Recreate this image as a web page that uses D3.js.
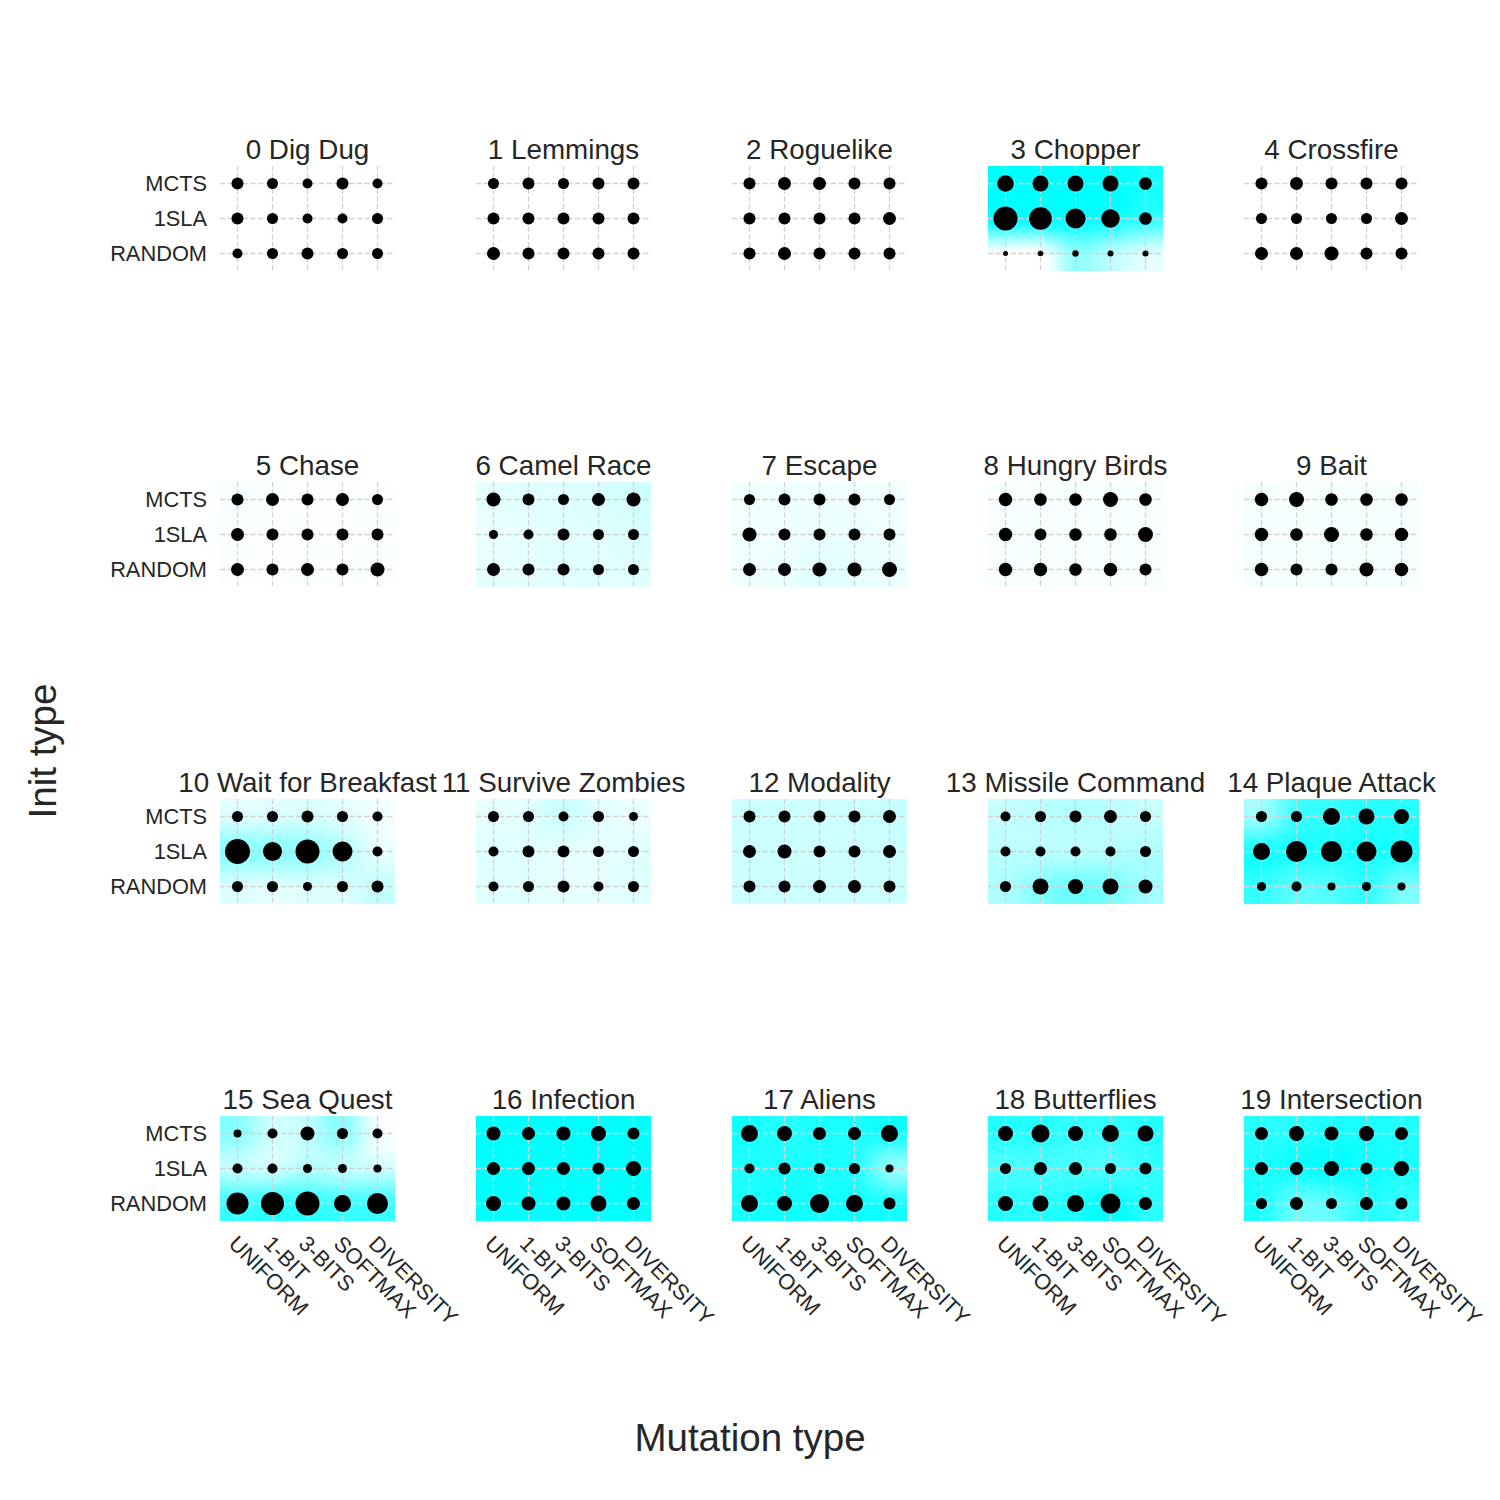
<!DOCTYPE html>
<html><head><meta charset="utf-8">
<script src="https://cdnjs.cloudflare.com/ajax/libs/d3/7.8.5/d3.min.js"></script>
<style>body{margin:0;background:#fff}svg{display:block}</style>
</head><body>
<script>
// ---------- data ----------
const games = ["0 Dig Dug","1 Lemmings","2 Roguelike","3 Chopper","4 Crossfire",
  "5 Chase","6 Camel Race","7 Escape","8 Hungry Birds","9 Bait",
  "10 Wait for Breakfast","11 Survive Zombies","12 Modality","13 Missile Command","14 Plaque Attack",
  "15 Sea Quest","16 Infection","17 Aliens","18 Butterflies","19 Intersection"];
const mutations = ["UNIFORM","1-BIT","3-BITS","SOFTMAX","DIVERSITY"];
const inits = ["MCTS","1SLA","RANDOM"];
const xLabel = "Mutation type";
const yLabel = "Init type";

// background value (win rate, 0..1) per game: rows MCTS, 1SLA, RANDOM
const winRates = [
  [[0,0,0,0,0],[0,0,0,0,0],[0,0,0,0,0]],
  [[0,0,0,0,0],[0,0,0,0,0],[0,0,0,0,0]],
  [[0,0,0,0,0],[0,0,0,0,0],[0,0,0,0,0]],
  [[1,1,1,1,0.92],[1,1,1,0.95,0.8],[0,0,0.45,0.3,0.15]],
  [[0,0,0,0,0],[0,0,0,0,0],[0,0,0,0,0]],
  [[0.03,0.02,0.01,0.01,0.01],[0.02,0.01,0.01,0.01,0.01],[0.01,0.01,0.01,0.01,0.01]],
  [[0.1,0.12,0.12,0.15,0.18],[0.08,0.1,0.12,0.12,0.15],[0.1,0.1,0.12,0.12,0.12]],
  [[0.05,0.06,0.06,0.06,0.05],[0.05,0.06,0.08,0.08,0.06],[0.06,0.08,0.12,0.1,0.08]],
  [[0.03,0.03,0.03,0.03,0.03],[0.03,0.03,0.03,0.03,0.03],[0.03,0.03,0.03,0.03,0.03]],
  [[0.04,0.03,0.04,0.03,0.04],[0.04,0.04,0.04,0.04,0.04],[0.04,0.04,0.04,0.04,0.04]],
  [[0.14,0.14,0.16,0.12,0.05],[0.45,0.45,0.42,0.3,0.1],[0.15,0.12,0.15,0.15,0.22]],
  [[0.1,0.12,0.2,0.12,0.08],[0.12,0.12,0.1,0.1,0.12],[0.12,0.12,0.1,0.1,0.12]],
  [[0.2,0.2,0.2,0.2,0.22],[0.2,0.2,0.18,0.2,0.2],[0.2,0.2,0.2,0.2,0.2]],
  [[0.22,0.27,0.3,0.27,0.22],[0.27,0.27,0.27,0.3,0.32],[0.32,0.47,0.57,0.52,0.37]],
  [[0.4,0.75,0.8,0.85,0.85],[0.9,0.9,0.9,0.92,0.9],[0.8,0.65,0.7,0.8,0.55]],
  [[0.45,0.2,0.25,0.45,0.05],[0.25,0.2,0.3,0.25,0.2],[0.75,0.8,0.8,0.75,0.75]],
  [[1,1,1,1,1],[1,1,1,1,1],[1,1,1,1,1]],
  [[0.92,0.85,0.9,0.9,0.92],[0.88,0.9,0.9,0.85,0.45],[0.9,0.95,0.92,0.95,0.9]],
  [[0.85,0.85,0.8,0.8,0.85],[0.7,0.72,0.72,0.7,0.8],[0.85,0.85,0.9,1,0.85]],
  [[0.85,0.85,0.9,0.9,0.88],[0.9,0.95,1,0.95,0.9],[0.88,0.6,0.65,0.85,0.8]]
];

// dot value (relative score) per game: rows MCTS, 1SLA, RANDOM
const scores = [
  [[6,5.5,5,6,5],[6,5.5,5,5,5.5],[5,5.5,6,5.5,5.5]],
  [[5.5,6,5.5,6,6],[6,6,6,6,6],[6.5,6,6,6,6]],
  [[6,6.5,6.5,6,6],[6,6,6,6,6.5],[6,6.5,6,6,6]],
  [[8.3,8,8,8,6.3],[12,11.3,10,9.2,6.3],[2.5,2.8,3.2,3,3]],
  [[6,6.5,6,6,6],[5.5,5.5,5.5,5.5,6.5],[6.5,6.5,7,6,6]],
  [[6,6.5,6,6.5,5.5],[6.5,6,6,6,6],[6.5,6,6.5,6,7]],
  [[7,6,5.5,6.5,7],[4.5,5,6,5.5,5.5],[6.5,6,6,5.5,5.5]],
  [[5.5,6,6,6,5.5],[7,6,6,6,6],[6.5,6.5,7,7,7.5]],
  [[6.7,6.3,6.3,7.5,6.3],[6.7,6,6.3,6.3,7.5],[6.7,6.7,6.3,6.7,6]],
  [[6.7,7.5,6.3,6.3,6.3],[6.7,6.3,7.5,6.3,6.7],[6.7,6,6,7,6.7]],
  [[5.5,5.5,6,5.5,5],[12.5,9.5,12,10,5],[5.5,5.5,4.5,5.5,6]],
  [[5.5,5.5,5,5.5,4.5],[5,6,6,5.5,5.5],[5,5.5,6,5,5.5]],
  [[6,6,6,6,6.5],[6.5,7,6,6,6.5],[6,6,6.5,6.5,6]],
  [[5,5.5,6,6.5,5.5],[5,5,5,5,5.5],[5.5,8,7.5,8,7]],
  [[5.5,5.5,8.5,8,7.5],[8.5,10.5,10.5,10,11],[4.5,5,4,4.5,4]],
  [[4,5,7,5.5,5],[5,5,4.5,4.5,4],[11,11.5,12,8.5,10.5]],
  [[7,6.5,7,7.5,6],[6.5,6.5,6.5,6,7.5],[7.5,7,7,8,6.5]],
  [[8.5,7.5,6.5,6.5,8.5],[5,6,5.5,5.5,4],[8.5,7.5,9.5,8.5,6]],
  [[7.5,9,7.5,8.5,8],[5.5,6.5,6.5,5.5,6],[7.5,8,8.5,10,6.5]],
  [[6.5,7.5,7,7.5,6.5],[6.5,6.5,7.5,6,7.5],[5.5,6.5,5.5,6.5,6]]
];

// ---------- layout ----------
const W = 1500, H = 1500;
const nCols = 5;
const panelW = 175, panelH = 105;
const colLeft0 = 219.5, colStep = 256;
const rowTop0 = 165.5, rowStep = 316.67;
const font = "'Liberation Sans', Arial, sans-serif";
const textColor = "#262626";

const svg = d3.select("body").append("svg").attr("width", W).attr("height", H)
  .style("font-family", font);

const x = d3.scaleBand().domain(mutations).range([0, panelW]).paddingInner(0).paddingOuter(0);
const y = d3.scaleBand().domain(inits).range([0, panelH]).paddingInner(0).paddingOuter(0);
const r = d3.scaleLinear().domain([0, 12]).range([0, 12]);
const color = d3.scaleLinear().domain([0, 1]).range(["#ffffff", "#00ffff"]).clamp(true);

// bicubic (Keys, a=-0.5) interpolation for smooth heatmap
function kern(t) {
  const a = -0.5; t = Math.abs(t);
  if (t <= 1) return (a + 2) * t * t * t - (a + 3) * t * t + 1;
  if (t < 2) return a * t * t * t - 5 * a * t * t + 8 * a * t - 4 * a;
  return 0;
}
function bicubic(g, u, v) {
  const nr = g.length, nc = g[0].length;
  const x0 = Math.floor(u), y0 = Math.floor(v);
  let s = 0;
  for (let j = -1; j <= 2; j++) {
    const yy = Math.min(nr - 1, Math.max(0, y0 + j));
    const wy = kern(v - (y0 + j));
    for (let i = -1; i <= 2; i++) {
      const xx = Math.min(nc - 1, Math.max(0, x0 + i));
      s += g[yy][xx] * wy * kern(u - (x0 + i));
    }
  }
  return s;
}
function heatURL(g, w, h) {
  const cv = document.createElement("canvas");
  cv.width = w; cv.height = h;
  const ctx = cv.getContext("2d");
  const img = ctx.createImageData(w, h);
  const nr = g.length, nc = g[0].length;
  for (let py = 0; py < h; py++) {
    for (let px = 0; px < w; px++) {
      const u = (px + 0.5) / w * nc - 0.5;
      const v = (py + 0.5) / h * nr - 0.5;
      const c = d3.rgb(color(bicubic(g, u, v)));
      const k = (py * w + px) * 4;
      img.data[k] = c.r; img.data[k + 1] = c.g; img.data[k + 2] = c.b; img.data[k + 3] = 255;
    }
  }
  ctx.putImageData(img, 0, 0);
  return cv.toDataURL();
}

games.forEach((name, gi) => {
  const ci = gi % nCols, ri = Math.floor(gi / nCols);
  const left = Math.round(colLeft0 + ci * colStep);
  const top = Math.round(rowTop0 + ri * rowStep);
  const g = svg.append("g").attr("transform", `translate(${left},${top})`);

  g.append("image").attr("x", 0).attr("y", 0).attr("width", panelW).attr("height", panelH)
    .attr("preserveAspectRatio", "none")
    .attr("href", heatURL(winRates[gi], panelW, panelH));

  // grid
  g.selectAll("line.v").data(mutations).enter().append("line")
    .attr("x1", d => x(d) + x.bandwidth() / 2).attr("x2", d => x(d) + x.bandwidth() / 2)
    .attr("y1", 0).attr("y2", panelH)
    .attr("stroke", "#d2d2d2").attr("stroke-width", 1.3).attr("stroke-dasharray", "5.2,2.4");
  g.selectAll("line.h").data(inits).enter().append("line")
    .attr("y1", d => y(d) + y.bandwidth() / 2).attr("y2", d => y(d) + y.bandwidth() / 2)
    .attr("x1", 0).attr("x2", panelW)
    .attr("stroke", "#d2d2d2").attr("stroke-width", 1.3).attr("stroke-dasharray", "5.2,2.4");

  // dots
  const cells = [];
  inits.forEach((ini, yi) => mutations.forEach((mu, xi) =>
    cells.push({ ini, mu, v: scores[gi][yi][xi] })));
  g.selectAll("circle").data(cells).enter().append("circle")
    .attr("cx", d => x(d.mu) + x.bandwidth() / 2)
    .attr("cy", d => y(d.ini) + y.bandwidth() / 2)
    .attr("r", d => r(d.v))
    .attr("fill", "#000");

  // title
  g.append("text").attr("x", panelW / 2).attr("y", -7)
    .attr("text-anchor", "middle").attr("font-size", 27.8).attr("fill", textColor)
    .text(name);

  // y tick labels on first column
  if (ci === 0) {
    g.selectAll("text.yt").data(inits).enter().append("text")
      .attr("x", -13).attr("y", d => y(d) + y.bandwidth() / 2)
      .attr("dy", "0.35em").attr("text-anchor", "end")
      .attr("font-size", 21.8).attr("fill", textColor).text(d => d);
  }
  // x tick labels on bottom row
  if (ri === 3) {
    g.selectAll("text.xt").data(mutations).enter().append("text")
      .attr("transform", d => `translate(${x(d) + x.bandwidth() / 2 - 10},${panelH + 24}) rotate(45)`)
      .attr("text-anchor", "start")
      .attr("font-size", 21.8).attr("fill", textColor).text(d => d);
  }
});

svg.append("text").attr("x", 750).attr("y", 1451).attr("text-anchor", "middle")
  .attr("font-size", 38.5).attr("fill", textColor).text(xLabel);
svg.append("text").attr("transform", "translate(56,751) rotate(-90)").attr("text-anchor", "middle")
  .attr("font-size", 38.5).attr("fill", textColor).text(yLabel);
</script>
</body></html>
